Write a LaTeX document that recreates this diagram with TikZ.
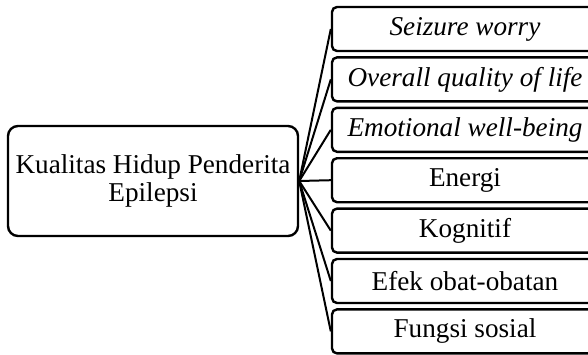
\documentclass[tikz,border=0pt]{standalone}
\usepackage{fontspec}
\setmainfont{Liberation Serif}
\usetikzlibrary{positioning}

\tikzset{
  mainbox/.style={draw, line width=1.2pt, rounded corners=5pt, minimum width=145pt, minimum height=55pt, align=center, inner sep=0pt},
  itembox/.style={draw, line width=1.2pt, rounded corners=2.5pt, minimum width=133pt, minimum height=22pt, inner sep=0pt},
  link/.style={line width=1pt}
}

\begin{document}
\begin{tikzpicture}[x=0.5pt, y=-0.5pt, font=\fontsize{13.6}{14}\selectfont]
	\useasboundingbox (0,0) rectangle (588,354);
	
	\node [mainbox] (kualitas) at (153,181) {Kualitas Hidup Penderita\\Epilepsi};
	
	\foreach \name/\txt [count=\i from 0] in {seizure/\textit{Seizure worry}, overall/\textit{Overall quality of life}, emotional/\textit{Emotional well-being}, energi/Energi, kognitif/Kognitif, efek/Efek obat-obatan, fungsi/Fungsi sosial}
		\node [itembox] (\name) at (465, 29+50.4*\i) {\txt};
	
	\foreach \name in {seizure, overall, emotional, energi, kognitif, efek, fungsi}
		\draw [link] (kualitas.east) -- (\name.west);
\end{tikzpicture}
\end{document}
